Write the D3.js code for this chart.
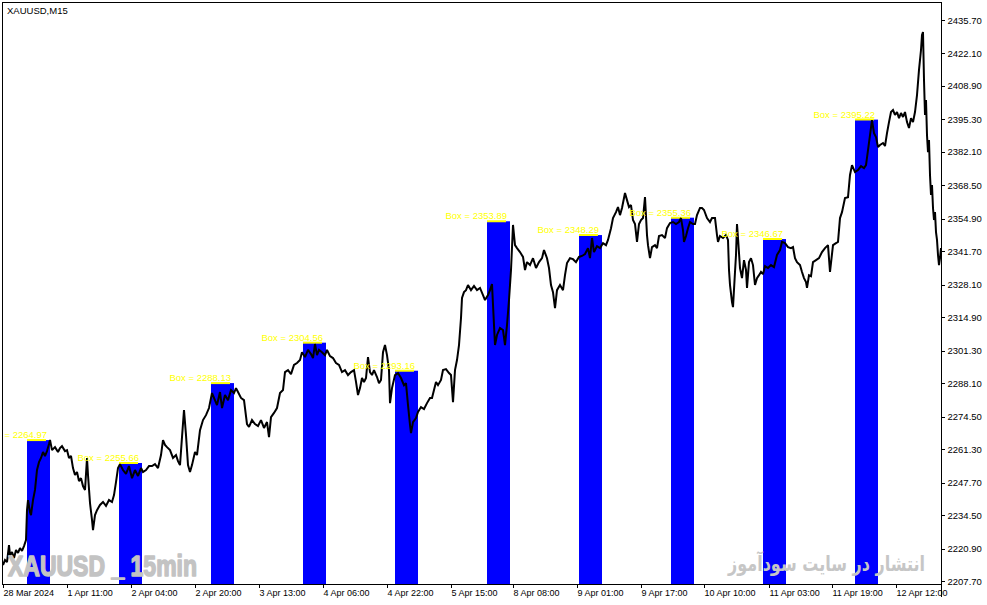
<!DOCTYPE html>
<html>
<head>
<meta charset="utf-8">
<script src="https://cdnjs.cloudflare.com/ajax/libs/d3/7.8.5/d3.min.js"></script>
<style>
    html, body { margin: 0; padding: 0; background: #fff; }
    svg { display: block; }
</style>
</head>
<body>
<svg id="chart" width="987" height="605"></svg>
<script>
const symbolTitle = 'XAUUSD,M15';
const watermarkLeft = 'XAUUSD _ 15min';
const watermarkRight = 'انتشار در سایت سودآموز';

// price scale labels
const yTicks = [2207.7, 2220.9, 2234.5, 2247.7, 2261.3, 2274.5, 2288.1, 2301.3,
    2314.9, 2328.1, 2341.7, 2354.9, 2368.5, 2382.1, 2395.3, 2408.9, 2422.1, 2435.7];

// time scale labels and the bar they sit on
const xLabels = ['28 Mar 2024', '1 Apr 11:00', '2 Apr 04:00', '2 Apr 20:00', '3 Apr 13:00',
    '4 Apr 06:00', '4 Apr 22:00', '5 Apr 15:00', '8 Apr 08:00', '9 Apr 01:00', '9 Apr 17:00',
    '10 Apr 10:00', '11 Apr 03:00', '11 Apr 19:00', '12 Apr 12:00'];
const xTickBars = [0, 64, 128, 192, 256, 320, 384, 448, 510, 574, 638, 701, 766, 829, 893];

// session boxes
const boxStartBars = [24, 116, 208, 300, 392, 484, 576, 668, 760, 852];
const boxValues = [2264.97, 2255.66, 2288.13, 2304.56, 2293.16, 2353.89, 2348.29, 2355.36, 2346.67, 2395.22];

// close prices, [bar, price]
const closes = [
    [0, 2214.2], [2, 2216.2], [4, 2215.4], [6, 2222.3], [7, 2218.2], [9, 2219.5], [11, 2217.0], [13, 2220.3],
    [15, 2219.1], [17, 2221.1], [19, 2219.9], [21, 2221.9], [23, 2224.3], [24, 2236.5], [25, 2240.6], [27, 2235.7],
    [28, 2234.5], [30, 2240.6], [32, 2244.7], [34, 2252.8], [36, 2256.0], [38, 2257.7], [40, 2260.1], [42, 2258.5],
    [44, 2260.5], [46, 2263.4], [47, 2265.0], [49, 2260.9], [52, 2262.1], [55, 2260.1], [57, 2261.7], [59, 2262.5],
    [62, 2260.5], [64, 2260.9], [66, 2257.7], [68, 2258.5], [70, 2253.6], [72, 2250.8], [74, 2252.0], [76, 2248.3],
    [78, 2249.5], [80, 2246.3], [82, 2244.7], [84, 2257.7], [85, 2250.8], [87, 2239.4], [89, 2232.5], [90, 2228.4],
    [92, 2234.5], [94, 2236.5], [97, 2238.6], [100, 2239.8], [103, 2238.2], [106, 2240.6], [109, 2239.8], [111, 2242.6],
    [113, 2247.9], [115, 2253.6], [117, 2255.2], [120, 2252.8], [123, 2251.2], [126, 2254.4], [129, 2249.5], [132, 2252.8],
    [135, 2250.4], [138, 2253.6], [140, 2252.0], [143, 2252.8], [146, 2254.4], [149, 2254.4], [152, 2255.2], [155, 2253.6],
    [158, 2258.9], [160, 2265.0], [162, 2263.0], [164, 2262.1], [167, 2260.9], [170, 2257.7], [173, 2258.9], [175, 2256.4],
    [177, 2254.8], [179, 2266.2], [181, 2277.2], [183, 2267.0], [185, 2254.8], [187, 2252.0], [189, 2254.8], [192, 2260.1],
    [194, 2258.9], [197, 2269.0], [200, 2273.1], [203, 2275.1], [206, 2278.0], [209, 2284.1], [211, 2282.1], [214, 2279.2],
    [217, 2284.5], [219, 2278.0], [222, 2283.3], [225, 2281.2], [228, 2285.3], [231, 2284.1], [233, 2286.1], [235, 2284.5],
    [238, 2282.1], [241, 2281.2], [244, 2271.5], [246, 2270.3], [249, 2273.1], [252, 2271.5], [255, 2270.7], [258, 2273.1],
    [261, 2269.9], [264, 2272.3], [266, 2266.2], [268, 2274.3], [271, 2276.0], [274, 2278.0], [277, 2284.1], [280, 2285.3],
    [282, 2292.6], [285, 2293.4], [288, 2291.8], [291, 2295.5], [294, 2296.3], [297, 2297.5], [299, 2300.7], [302, 2298.7],
    [305, 2301.6], [308, 2299.9], [310, 2298.3], [312, 2304.0], [314, 2299.5], [316, 2301.6], [319, 2300.7], [322, 2299.5],
    [324, 2301.6], [327, 2299.1], [330, 2298.3], [333, 2296.3], [336, 2295.5], [339, 2292.6], [342, 2293.4], [345, 2291.4],
    [348, 2292.6], [351, 2293.4], [353, 2288.6], [355, 2283.3], [357, 2286.1], [359, 2290.2], [361, 2288.6], [363, 2290.2],
    [365, 2298.7], [367, 2292.6], [369, 2291.4], [371, 2293.4], [374, 2290.6], [376, 2288.1], [378, 2289.4], [380, 2300.7],
    [382, 2303.6], [384, 2299.5], [386, 2293.4], [387, 2280.0], [389, 2286.1], [392, 2291.4], [395, 2292.2], [398, 2290.2],
    [401, 2287.3], [403, 2288.1], [405, 2279.2], [407, 2271.1], [408, 2267.8], [410, 2272.3], [413, 2273.9], [415, 2276.4],
    [418, 2278.4], [421, 2277.6], [424, 2280.0], [427, 2282.1], [429, 2282.1], [431, 2285.3], [433, 2288.6], [435, 2287.3],
    [438, 2289.4], [440, 2293.4], [443, 2293.8], [446, 2292.2], [448, 2291.4], [450, 2280.4], [452, 2293.4], [454, 2297.5],
    [456, 2303.6], [458, 2314.6], [459, 2322.7], [461, 2325.1], [463, 2325.9], [465, 2328.0], [468, 2325.9], [471, 2327.6],
    [474, 2325.9], [477, 2326.8], [480, 2323.9], [482, 2321.9], [485, 2323.9], [487, 2325.9], [489, 2328.4], [491, 2311.7],
    [492, 2303.6], [494, 2307.7], [497, 2310.5], [500, 2309.7], [502, 2303.6], [504, 2311.7], [506, 2321.9], [508, 2334.1],
    [510, 2352.4], [512, 2344.2], [514, 2343.0], [517, 2341.4], [520, 2339.4], [522, 2334.1], [524, 2337.3], [527, 2336.1],
    [530, 2338.9], [533, 2334.9], [536, 2337.3], [539, 2338.9], [541, 2342.2], [544, 2338.9], [546, 2334.9], [548, 2328.0],
    [550, 2325.1], [552, 2318.6], [554, 2325.9], [557, 2328.0], [560, 2325.9], [562, 2332.0], [564, 2336.9], [567, 2338.9],
    [570, 2338.5], [573, 2337.3], [576, 2339.4], [579, 2339.8], [582, 2340.6], [585, 2343.0], [587, 2338.9], [589, 2347.1],
    [591, 2341.4], [594, 2343.8], [597, 2343.0], [600, 2345.0], [603, 2344.2], [605, 2346.3], [608, 2351.1], [610, 2355.2],
    [613, 2357.6], [615, 2359.7], [617, 2356.4], [619, 2359.3], [622, 2365.4], [624, 2362.5], [626, 2359.7], [628, 2360.5],
    [630, 2354.4], [632, 2352.8], [634, 2345.5], [636, 2352.8], [638, 2354.4], [640, 2355.2], [642, 2363.7], [644, 2348.3],
    [645, 2344.2], [647, 2338.9], [649, 2343.4], [652, 2344.2], [654, 2343.0], [656, 2347.9], [659, 2348.3], [662, 2347.1],
    [664, 2351.1], [667, 2353.2], [670, 2353.6], [673, 2352.8], [676, 2353.6], [678, 2355.2], [680, 2350.3], [681, 2345.5],
    [683, 2347.9], [685, 2351.1], [687, 2353.6], [690, 2352.8], [692, 2352.8], [694, 2356.4], [697, 2359.3], [699, 2359.3],
    [701, 2358.5], [704, 2355.2], [707, 2353.6], [709, 2355.2], [712, 2355.2], [714, 2348.3], [715, 2345.5], [717, 2347.9],
    [720, 2347.1], [723, 2348.3], [725, 2346.3], [726, 2334.1], [727, 2328.0], [729, 2321.1], [730, 2319.0], [732, 2333.3],
    [733, 2340.2], [734, 2352.8], [735, 2347.1], [737, 2334.9], [739, 2330.8], [741, 2338.1], [743, 2334.1], [744, 2326.8],
    [746, 2337.3], [748, 2338.9], [750, 2336.1], [752, 2328.0], [754, 2330.8], [756, 2332.0], [758, 2333.3], [760, 2332.4],
    [762, 2335.7], [765, 2334.9], [768, 2336.1], [771, 2335.3], [774, 2340.2], [777, 2342.2], [779, 2345.5], [782, 2345.0],
    [785, 2343.4], [788, 2343.0], [790, 2343.4], [792, 2338.9], [794, 2337.3], [797, 2336.1], [799, 2333.3], [801, 2330.8],
    [803, 2329.2], [804, 2326.8], [806, 2332.0], [808, 2331.6], [810, 2337.3], [813, 2338.1], [816, 2338.9], [819, 2341.4],
    [822, 2343.0], [825, 2344.2], [827, 2333.3], [830, 2344.2], [833, 2345.0], [835, 2345.5], [837, 2355.2], [839, 2357.6],
    [842, 2363.3], [845, 2363.7], [847, 2372.7], [849, 2376.7], [852, 2373.9], [855, 2374.7], [858, 2376.3], [861, 2375.5],
    [863, 2376.7], [865, 2382.8], [867, 2388.9], [869, 2395.0], [871, 2389.7], [873, 2388.1], [875, 2384.1], [877, 2384.9],
    [880, 2385.7], [882, 2384.5], [884, 2389.7], [886, 2394.2], [888, 2398.3], [890, 2399.1], [892, 2397.1], [894, 2398.3],
    [896, 2395.8], [898, 2397.9], [900, 2396.3], [902, 2398.3], [904, 2394.2], [906, 2391.8], [908, 2395.8], [910, 2394.2],
    [912, 2398.3], [914, 2405.2], [916, 2415.4], [918, 2423.5], [919, 2429.6], [920, 2430.8], [921, 2411.3], [922, 2397.1],
    [923, 2403.2], [924, 2388.9], [925, 2382.0], [926, 2386.9], [927, 2372.7], [928, 2364.6], [929, 2368.6], [930, 2359.3],
    [931, 2354.4], [932, 2357.6], [933, 2349.5], [934, 2346.3], [935, 2340.2], [936, 2336.1], [937, 2338.9], [938, 2343.0]
];

const width = 987;
const height = 605;
const frame = { left: 2.5, top: 2.5, right: 941.5, bottom: 584.5 };
const boxLength = 23;   // bars
const markLength = 19;  // bars, yellow level line
const uiFont = '"Liberation Sans", Arial, sans-serif';

const x = d3.scaleLinear().domain([0, 938]).range([3, 941]);
const y = d3.scaleLinear().domain([2207.7, 2435.7]).range([581, 20]);

const svg = d3.select('#chart');

svg.append('rect')
    .attr('width', width)
    .attr('height', height)
    .attr('fill', '#fff');

svg.append('defs')
    .append('clipPath')
    .attr('id', 'plot-clip')
    .append('rect')
    .attr('x', frame.left + 0.5)
    .attr('y', frame.top + 0.5)
    .attr('width', frame.right - frame.left - 1)
    .attr('height', frame.bottom - frame.top - 0.5);

const plot = svg.append('g').attr('clip-path', 'url(#plot-clip)');

const boxes = boxStartBars.map((start, i) => ({ start, value: boxValues[i] }));

plot.append('g')
    .selectAll('rect')
    .data(boxes)
    .join('rect')
    .attr('x', d => x(d.start))
    .attr('width', d => x(d.start + boxLength) - x(d.start))
    .attr('y', d => y(d.value))
    .attr('height', d => frame.bottom - 0.5 - y(d.value))
    .attr('fill', '#0000ff');

plot.append('g')
    .selectAll('line')
    .data(boxes)
    .join('line')
    .attr('x1', d => x(d.start))
    .attr('x2', d => x(d.start + markLength))
    .attr('y1', d => y(d.value))
    .attr('y2', d => y(d.value))
    .attr('stroke', '#ffff00')
    .attr('stroke-width', 2);

const line = d3.line()
    .x(d => x(d[0]))
    .y(d => y(d[1]));

plot.append('path')
    .datum(closes)
    .attr('d', line)
    .attr('fill', 'none')
    .attr('stroke', '#000')
    .attr('stroke-width', 2)
    .attr('stroke-linejoin', 'miter')
    .attr('stroke-miterlimit', 2);

// watermarks, stretched to the width they take in the screenshot
function fitText(sel, left, baseline, targetWidth) {
    const box = sel.node().getBBox();
    const s = targetWidth / box.width;
    sel.attr('transform', `translate(${left - box.x * s},${baseline}) scale(${s},1)`);
}

const wmLeft = plot.append('text')
    .attr('x', 0)
    .attr('y', 0)
    .attr('font-family', '"Liberation Sans", Arial, sans-serif')
    .attr('font-weight', 'bold')
    .attr('font-size', 30)
    .attr('fill', '#c3c3c3')
    .attr('stroke', '#c3c3c3')
    .attr('stroke-width', 1.6)
    .attr('stroke-linejoin', 'round')
    .text(watermarkLeft);
fitText(wmLeft, 8, 576, 189);

const wmRight = plot.append('text')
    .attr('x', 0)
    .attr('y', 0)
    .attr('direction', 'rtl')
    .attr('font-family', '"DejaVu Sans", sans-serif')
    .attr('font-weight', 'bold')
    .attr('font-size', 21)
    .attr('fill', '#c6c6c6')
    .text(watermarkRight);
fitText(wmRight, 727, 571, 198);

plot.append('g')
    .selectAll('text')
    .data(boxes)
    .join('text')
    .attr('x', d => x(d.start + markLength) + 1)
    .attr('y', d => y(d.value) - 2)
    .attr('text-anchor', 'end')
    .attr('font-family', uiFont)
    .attr('font-size', 9.5)
    .attr('fill', '#ffff00')
    .text(d => `Box = ${d.value.toFixed(2)}`);

// frame
svg.append('path')
    .attr('d', `M${frame.left},${frame.bottom}V${frame.top}H${frame.right}V597M${frame.left},${frame.bottom}H${frame.right}`)
    .attr('fill', 'none')
    .attr('stroke', '#000')
    .attr('stroke-width', 1)
    .attr('shape-rendering', 'crispEdges');

svg.append('text')
    .attr('x', 7)
    .attr('y', 14)
    .attr('font-family', uiFont)
    .attr('font-size', 9.5)
    .attr('fill', '#000')
    .text(symbolTitle);

const yAxe = d3.axisRight(y)
    .tickValues(yTicks)
    .tickFormat(d3.format('.2f'))
    .tickSize(3)
    .tickSizeOuter(0)
    .tickPadding(3);

const xAxe = d3.axisBottom(x)
    .tickValues(xTickBars)
    .tickFormat((d, i) => xLabels[i])
    .tickSize(3)
    .tickSizeOuter(0)
    .tickPadding(2);

const yAxisG = svg.append('g')
    .attr('transform', `translate(${frame.right},0)`)
    .call(yAxe);

const xAxisG = svg.append('g')
    .attr('transform', `translate(0,${frame.bottom})`)
    .call(xAxe);

[yAxisG, xAxisG].forEach(g => {
    g.select('.domain').remove();
    g.selectAll('line').attr('stroke', '#000').attr('shape-rendering', 'crispEdges');
    g.selectAll('text')
        .attr('font-family', uiFont)
        .attr('font-size', 9.5)
        .attr('fill', '#000');
});

xAxisG.selectAll('text')
    .attr('text-anchor', 'start')
    .attr('font-size', 9);
</script>
</body>
</html>
